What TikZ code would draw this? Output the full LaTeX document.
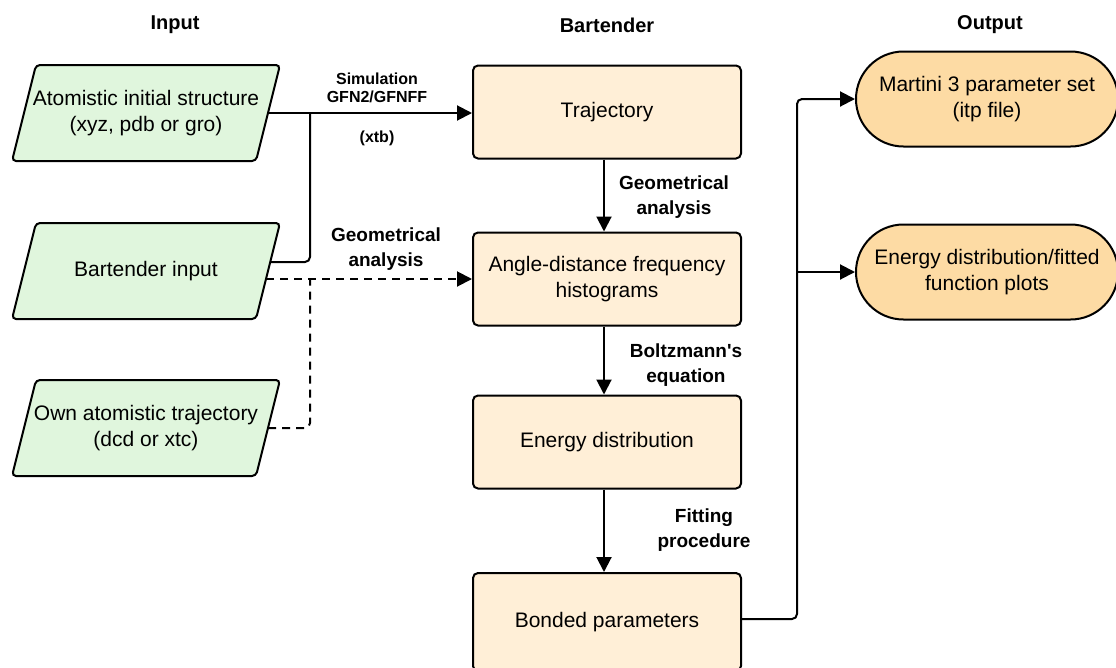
\documentclass[tikz,border=0pt]{standalone}
\usepackage{fontspec}
\setmainfont{Liberation Sans}
\usetikzlibrary{arrows.meta,shapes.misc,calc,backgrounds}
\definecolor{ingreen}{HTML}{E0F6DD}
\definecolor{procpeach}{HTML}{FFEFD7}
\definecolor{outorange}{HTML}{FDDBA4}
\begin{document}
\begin{tikzpicture}[x=1pt,y=-1pt,line width=2pt,
  inbox/.style={rectangle,minimum width=242pt,minimum height=94pt,
    align=center,inner sep=0pt,font=\fontsize{21}{26}\selectfont},
  procbox/.style={rectangle,draw,fill=procpeach,minimum width=268pt,minimum height=93pt,
    rounded corners=5pt,align=center,font=\fontsize{21}{26}\selectfont},
  outbox/.style={rounded rectangle,draw,fill=outorange,minimum width=262pt,minimum height=95pt,
    align=center,inner sep=0pt,font=\fontsize{21}{26}\selectfont},
  title/.style={font=\bfseries\fontsize{20}{24}\selectfont},
  lab/.style={font=\bfseries\fontsize{19}{25}\selectfont,align=center},
  smalllab/.style={font=\bfseries\fontsize{16}{18.5}\selectfont,align=center},
  conn/.style={-{Triangle[length=15pt,width=15pt]},rounded corners=5pt},
  plain/.style={rounded corners=5pt},
  dashline/.style={dash pattern=on 8pt off 6pt}
]
\useasboundingbox (0,0) rectangle (1116,667);

% titles
\node[title] (tin) at (175,25) {Input};
\node[title] (tbar) at (607,25) {Bartender};
\node[title] (tout) at (990,25) {Output};

% inputs
\node[inbox] (p1) at (146,113) {Atomistic initial structure\\(xyz, pdb or gro)};
\node[inbox] (p2) at (146,271) {Bartender input};
\node[inbox] (p3) at (146,428) {Own atomistic trajectory\\(dcd or xtc)};
\begin{scope}[on background layer]
\foreach \p in {p1,p2,p3}{
  \filldraw[fill=ingreen,draw=black,line width=2pt,rounded corners=4pt]
     ($(\p.south west)+(-12,0)$) -- ($(\p.north west)+(12,0)$)
     -- ($(\p.north east)+(12,0)$) -- ($(\p.south east)+(-12,0)$) -- cycle;
}
\end{scope}

% process
\node[procbox] (traj) at (607,112) {Trajectory};
\node[procbox] (ang) at (607,279) {Angle-distance frequency\\histograms};
\node[procbox] (ener) at (607,442) {Energy distribution};
\node[procbox,minimum height=98pt] (bond) at (607,622) {Bonded parameters};

% outputs
\node[outbox] (o1) at (987,99) {Martini 3 parameter set\\(itp file)};
\node[outbox] (o2) at (987,272) {Energy distribution/fitted\\function plots};

% junction coordinates
\coordinate (j1) at (310,113);
\coordinate (j2) at (310,279);
\coordinate (b1) at (797,99);

% connectors
\draw[conn] (p1.east) -- (p1.east -| traj.west);
\draw[plain] ($(p2.east)+(2,-9)$) -| (j1);
\draw[conn,dashline] ($(p2.east)+(-2,8)$) -- (ang.west);
\draw[plain,dashline] (p3.east) -| (j2);

\draw[conn] ($(traj.south)+(-3,0)$) -- ($(ang.north)+(-3,0)$);
\draw[conn] ($(ang.south)+(-3,0)$) -- ($(ener.north)+(-3,0)$);
\draw[conn] ($(ener.south)+(-3,0)$) -- ($(bond.north)+(-3,0)$);

\draw[conn] ($(bond.east)+(0,-3)$) -| (b1) -- (o1.west);
\draw[conn] (o2.west -| b1) -- (o2.west);

% labels
\node[smalllab] (l1) at (377,88) {Simulation\\GFN2/GFNFF};
\node[smalllab] (l2) at (377,138) {(xtb)};
\node[lab] (l3) at (386,249) {Geometrical\\analysis};
\node[lab] (l4) at (674,197) {Geometrical\\analysis};
\node[lab] (l5) at (686,365) {Boltzmann\textquotesingle s\\equation};
\node[lab] (l6) at (704,530) {Fitting\\procedure};
\end{tikzpicture}
\end{document}
